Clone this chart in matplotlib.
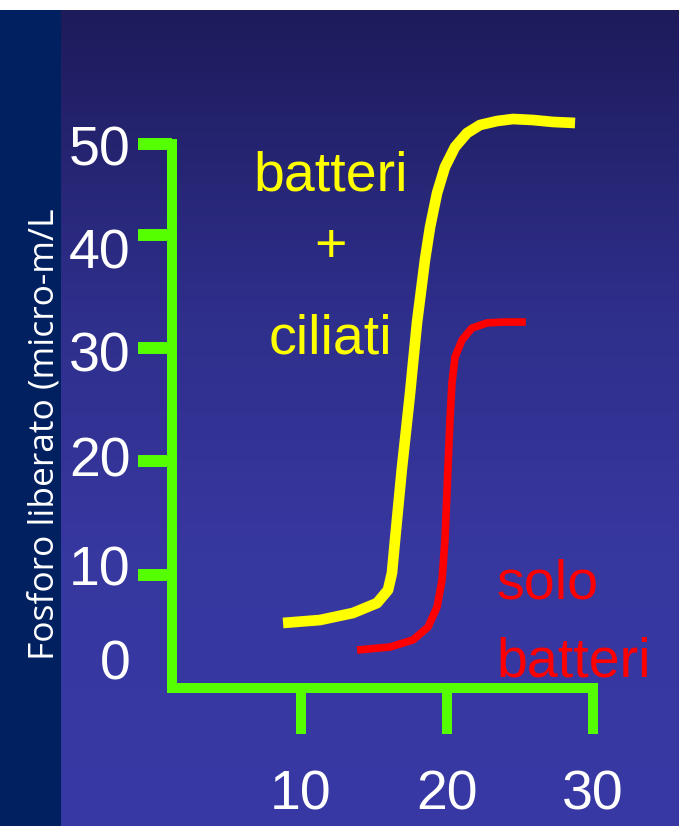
import matplotlib.pyplot as plt
import numpy as np

# fosforo liberato (x = tempo, y = micro-m/L)
x_ciliati = [8.77, 11.3, 13.56, 15.21, 15.96, 16.23, 16.44, 16.9, 17.45, 17.95, 18.49, 18.84, 19.32,
             19.86, 20.55, 21.37, 22.26, 23.42, 24.52, 25.89, 27.26, 28.77]
y_ciliati = [5.74, 6.0, 6.62, 7.5, 8.65, 10.15, 13.06, 19.24, 25.77, 32.3, 37.78, 40.69, 43.69,
             45.98, 47.75, 48.98, 49.69, 50.04, 50.22, 50.13, 49.96, 49.87]

x_batteri = [13.84, 16.1, 17.67, 18.7, 19.32, 19.66, 19.86, 20.21, 20.34, 20.55, 21.03, 21.71,
             22.74, 23.84, 25.4]
y_batteri = [3.35, 3.62, 4.24, 5.38, 7.15, 9.53, 13.06, 23.83, 26.92, 29.21, 30.72, 31.77,
             32.22, 32.3, 32.3]

x_ticks = [10, 20, 30]
x_tick_labels = ['10', '20', '30']
y_ticks = [10, 20, 30, 40, 48]
y_tick_labels = ['10', '20', '30', '40', '50', '0']

# layout
W, H = 679, 826
green = '#55FF00'
font = 'Liberation Sans'
fs = 40
y_label_pos = [10.8, 20.4, 29.7, 38.75, 47.9, 2.5]

fig = plt.figure(figsize=(W / 100, H / 100), dpi=100)

# sfondo: gradiente blu, banda sinistra scura, striscia bianca in alto
bg = fig.add_axes([0, 0, 1, 1])
bg.set_xlim(0, W)
bg.set_ylim(H, 0)
bg.axis('off')
rows = np.arange(H)
stops_y = [10, 300, 550, 826]
cols = np.stack([np.interp(rows, stops_y, [29, 46, 55, 57]),
                 np.interp(rows, stops_y, [27, 46, 55, 57]),
                 np.interp(rows, stops_y, [90, 138, 160, 165])], axis=1) / 255
grad = np.repeat(cols[:, None, :], 2, axis=1)
bg.imshow(grad, extent=[0, W, H, 0], aspect='auto', interpolation='bilinear')
bg.add_patch(plt.Rectangle((0, 10), 61, H - 10, color='#002060', lw=0))
bg.add_patch(plt.Rectangle((0, 0), W, 10, color='white', lw=0))
bg.text(54, 434, 'Fosforo liberato (micro-m/L', rotation=90, rotation_mode='anchor',
        ha='center', va='baseline', color='white', fontsize=25.5, family='Open Sans')

# grafico
ax = fig.add_axes([0, 0, 1, 1])
ax.patch.set_alpha(0)
ax.set_xlim(-155 / 14.6, (W - 155) / 14.6)
ax.set_ylim((688 - H) / 11.33, 688 / 11.33)

ax.plot(x_ciliati, y_ciliati, color='#FFFF00', lw=7.7, solid_joinstyle='round', solid_capstyle='butt')
ax.plot(x_batteri, y_batteri, color='#FF0000', lw=5.5, solid_joinstyle='round', solid_capstyle='butt')

for s in ['top', 'right']:
    ax.spines[s].set_visible(False)
ax.spines['left'].set_position(('data', 1.16))
ax.spines['left'].set_bounds(0, 48)
ax.spines['bottom'].set_position(('data', 0))
ax.spines['bottom'].set_bounds(1.16, 30)
for s in ['left', 'bottom']:
    ax.spines[s].set_color(green)
    ax.spines[s].set_linewidth(7.2)
    ax.spines[s].set_capstyle('projecting')

ax.set_xticks(x_ticks, x_tick_labels)
ax.tick_params(axis='x', direction='out', length=33, width=7.2, color=green,
               labelcolor='white', labelsize=fs, pad=26)
for t in ax.get_xticklabels():
    t.set_family(font)

ax.set_yticks(y_ticks, [])
ax.tick_params(axis='y', which='major', direction='out', length=24.5, width=8.6, color=green)
ax.set_yticks(y_label_pos, y_tick_labels, minor=True)
ax.tick_params(axis='y', which='minor', length=0, pad=30, labelcolor='white', labelsize=fs)
for t in ax.get_yticklabels(minor=True):
    t.set_family(font)

ax.text(12.05, 43.9, 'batteri', color='#FFFF00', fontsize=fs, family=font, ha='center', va='baseline')
ax.text(12.05, 38.8, '+', color='#FFFF00', fontsize=fs, family=font, ha='center', va='center')
ax.text(12.05, 29.5, 'ciliati', color='#FFFF00', fontsize=fs, family=font, ha='center', va='baseline')
ax.text(23.4, 7.9, 'solo', color='#FF0000', fontsize=fs, family=font, ha='left', va='baseline')
ax.text(23.4, 1.0, 'batteri', color='#FF0000', fontsize=fs, family=font, ha='left', va='baseline')

fig.savefig('out.png', dpi=100)
